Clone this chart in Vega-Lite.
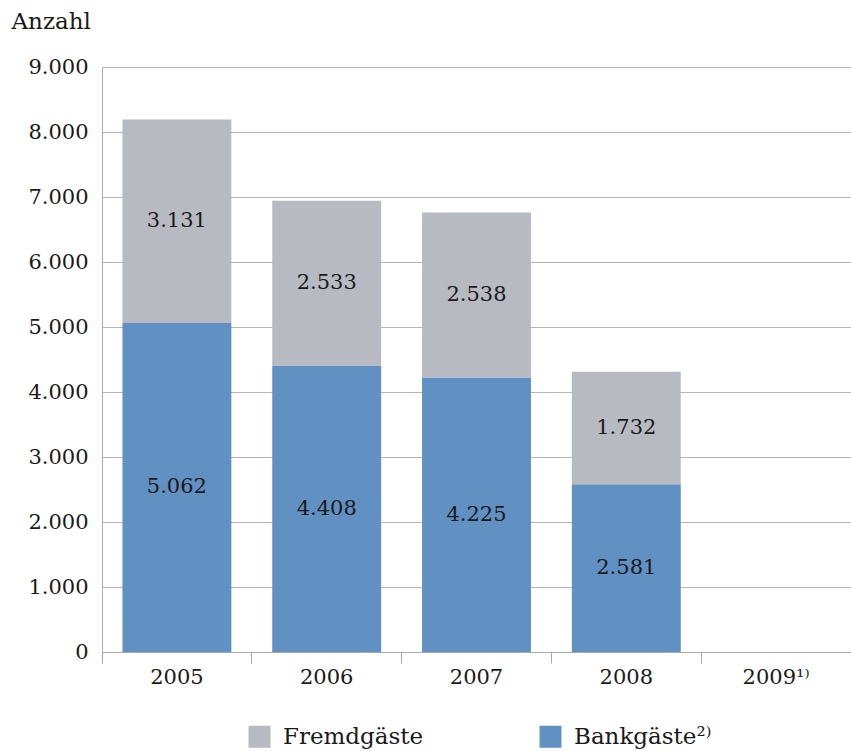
{
  "$schema": "https://vega.github.io/schema/vega-lite/v6.json",
  "width": 749,
  "height": 585,
  "autosize": {"type": "none"},
  "padding": {"left": 102, "top": 67, "right": 0, "bottom": 99},
  "background": "white",
  "config": {
    "locale": {"number": {"decimal": ",", "thousands": ".", "grouping": [3], "currency": ["", " €"]}},
    "font": "DejaVu Serif",
    "view": {"stroke": null}
  },
  "data": {
    "values": [
      {"jahr": "2005", "serie": "Bankgäste²⁾", "wert": 5062},
      {"jahr": "2005", "serie": "Fremdgäste", "wert": 3131},
      {"jahr": "2006", "serie": "Bankgäste²⁾", "wert": 4408},
      {"jahr": "2006", "serie": "Fremdgäste", "wert": 2533},
      {"jahr": "2007", "serie": "Bankgäste²⁾", "wert": 4225},
      {"jahr": "2007", "serie": "Fremdgäste", "wert": 2538},
      {"jahr": "2008", "serie": "Bankgäste²⁾", "wert": 2581},
      {"jahr": "2008", "serie": "Fremdgäste", "wert": 1732}
    ]
  },
  "transform": [
    {"stack": "wert", "groupby": ["jahr"], "sort": [{"field": "serie", "order": "ascending"}], "as": ["y0", "y1"]},
    {"calculate": "(datum.y0 + datum.y1) / 2", "as": "ymid"}
  ],
  "encoding": {
    "x": {
      "field": "jahr",
      "type": "nominal",
      "scale": {"domain": ["2005", "2006", "2007", "2008", "2009¹⁾"], "paddingInner": 0, "paddingOuter": 0},
      "axis": {
        "title": null,
        "labelAngle": 0,
        "labelFontSize": 21,
        "labelColor": "#1a1a1a",
        "labelPadding": 3,
        "bandPosition": 0,
        "tickSize": 11,
        "tickColor": "#a8a8b0",
        "domainColor": "#a8a8b0",
        "grid": false
      }
    }
  },
  "layer": [
    {
      "mark": {"type": "bar", "width": {"band": 0.727}},
      "encoding": {
        "y": {
          "field": "y1",
          "type": "quantitative",
          "scale": {"domain": [0, 9000], "nice": false},
          "axis": {
            "title": "Anzahl",
            "titleAngle": 0,
            "titleAlign": "left",
            "titleBaseline": "alphabetic",
            "titleX": -91,
            "titleY": -39,
            "titleFontSize": 23,
            "titleFontWeight": "normal",
            "titleColor": "#1a1a1a",
            "values": [0, 1000, 2000, 3000, 4000, 5000, 6000, 7000, 8000, 9000],
            "format": ",d",
            "labelFontSize": 21,
            "labelColor": "#1a1a1a",
            "labelPadding": 14,
            "ticks": false,
            "domainColor": "#a8a8b0",
            "grid": true,
            "gridColor": "#b4b4bc",
            "gridWidth": 1
          }
        },
        "y2": {"field": "y0"},
        "color": {
          "field": "serie",
          "type": "nominal",
          "scale": {"domain": ["Fremdgäste", "Bankgäste²⁾"], "range": ["#b8bac1", "#6190c2"]},
          "legend": {
            "title": null,
            "orient": "none",
            "direction": "horizontal",
            "legendX": 146,
            "legendY": 658,
            "padding": 0,
            "symbolType": "square",
            "symbolSize": 484,
            "symbolStrokeWidth": 0,
            "symbolOpacity": 1,
            "labelFontSize": 23,
            "labelColor": "#1a1a1a",
            "labelOffset": 12,
            "columnPadding": 115,
            "labelLimit": 300
          }
        }
      }
    },
    {
      "mark": {"type": "text", "fontSize": 21, "color": "#1a1a1a"},
      "encoding": {
        "y": {"field": "ymid", "type": "quantitative"},
        "text": {"field": "wert", "type": "quantitative", "format": ",d"}
      }
    }
  ]
}
